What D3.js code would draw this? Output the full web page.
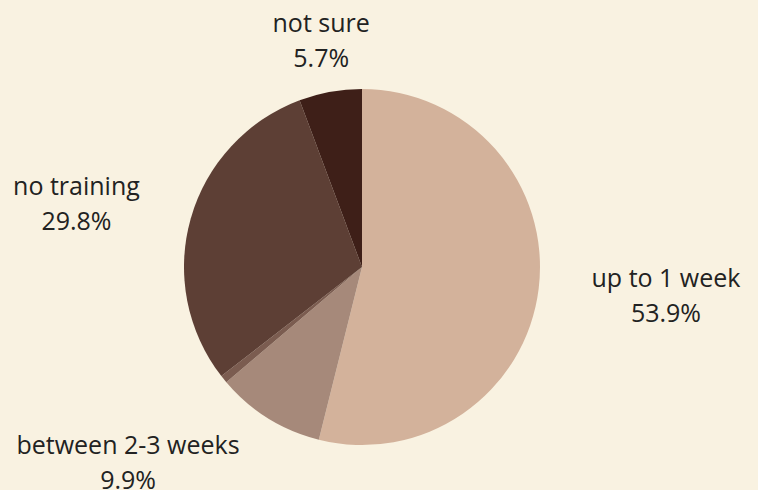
<!DOCTYPE html>
<html><head><meta charset="utf-8">
<script src="https://cdn.jsdelivr.net/npm/d3@7"></script>
<style>html,body{margin:0;padding:0;background:#f9f2e1;}svg{display:block;}</style>
</head><body><svg id="c" width="758" height="490"></svg>
<script>
const categories = ["up to 1 week", "between 2-3 weeks", "between 1-2 weeks", "no training", "not sure"];
const values = [53.9, 9.9, 0.7, 29.8, 5.7];
const showLabel = [true, true, false, true, true];
const colors = ["#d3b29b", "#a6897a", "#7b5c50", "#5d3f35", "#3e1f18"];

// layout (not data): label placement tweaks
const cx = 362, cy = 267, R = 178;
const labelRadius = [305.4, 305.6, 0, 292.3, 229.2];
const labelAngleShift = [-1.5, 18.1, 0, -3.5, 0]; // degrees
const lineGap = 35;

const svg = d3.select("#c");
svg.append("rect").attr("width", 758).attr("height", 490).attr("fill", "#f9f2e1");
const g = svg.append("g").attr("transform", `translate(${cx},${cy})`);
const pie = d3.pie().sort(null).value(d => d.v);
const data = categories.map((c, i) => ({c, v: values[i], i}));
const arcs = pie(data);
const arc = d3.arc().innerRadius(0).outerRadius(R);
g.selectAll("path").data(arcs).join("path")
  .attr("d", arc).attr("fill", d => colors[d.data.i]);

const lab = g.selectAll("g.lab").data(arcs.filter(d => showLabel[d.data.i])).join("g")
  .attr("class", "lab")
  .attr("transform", d => {
    const a = (d.startAngle + d.endAngle) / 2 + labelAngleShift[d.data.i] * Math.PI / 180;
    const r = labelRadius[d.data.i];
    return `translate(${r * Math.sin(a)},${-r * Math.cos(a)})`;
  });
lab.append("text").attr("text-anchor", "middle").attr("y", -lineGap / 2 + 8)
  .style("font-family", "'Open Sans'").style("font-size", "25px").attr("fill", "#222")
  .text(d => d.data.c);
lab.append("text").attr("text-anchor", "middle").attr("y", lineGap / 2 + 8)
  .style("font-family", "'Open Sans'").style("font-size", "25px").attr("fill", "#222")
  .text(d => d.data.v.toFixed(1) + "%");
</script></body></html>
